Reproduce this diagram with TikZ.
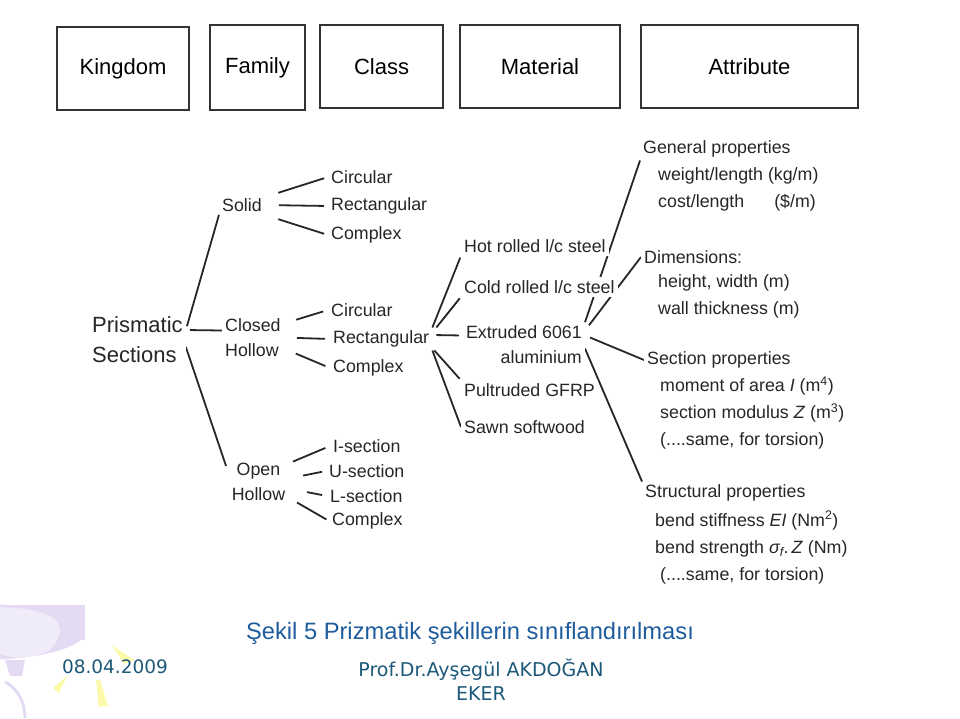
\documentclass[tikz,border=0pt]{standalone}
\usepackage{fontspec}
\setmainfont{Liberation Sans}
\newfontfamily\footfont{DejaVu Sans}
\usepackage{tikz}
\usetikzlibrary{positioning}
\usetikzlibrary{backgrounds}
\usetikzlibrary{calc}
\definecolor{capblue}{RGB}{30,92,156}
\definecolor{footblue}{RGB}{28,88,120}
\definecolor{balloon}{RGB}{229,218,244}
\definecolor{balloonlight}{RGB}{240,235,248}
\definecolor{ray}{RGB}{252,250,170}
\tikzstyle{headbox}=[rectangle,draw=black!80,line width=2pt,font=\fontsize{22}{26}\selectfont,inner sep=0pt]
\tikzstyle{item}=[anchor=west,fill=white,inner sep=3pt,text=black!85,font=\fontsize{17.8}{25}\selectfont]
\tikzstyle{bigitem}=[item,font=\fontsize{22}{30}\selectfont]
\tikzstyle{attrlist}=[item,font=\fontsize{17.8}{27}\selectfont,align=left]
\tikzstyle{branch}=[draw,line width=1.8pt,black!85]

\begin{document}
\begin{tikzpicture}[x=1pt,y=-1pt]
\useasboundingbox (0,0) rectangle (960,718);

    % header row
    \foreach \pos/\name/\label/\w/\h in {{(123,68.5)/kingdom/Kingdom/132/83}, {(257.5,67.5)/family/Family/95/85},{(381.5,66.5)/class/Class/123/83},{(540,66.5)/material/Material/160/83},{(749.5,66.5)/attribute/Attribute/217/83}}
        \node[headbox,minimum width=\w pt,minimum height=\h pt] (\name) at \pos {\label};

    % kingdom and family
    \node[bigitem,align=left] (prism) at (89,340) {Prismatic\\Sections};
    \node[item] (solid) at (219,205) {Solid};
    \node[item,align=left] (ch) at (222,337.5) {Closed\\Hollow};
    \node[item,anchor=center,align=center] (oh) at (258.5,481.5) {Open\\Hollow};

    % classes
    \foreach \pos/\name/\label in {{(328,177)/sc1/Circular}, {(328,206)/sr1/Rectangular}, {(328,235)/sx1/Complex}, {(328,310)/cc2/Circular}, {(330,339)/cr2/Rectangular}, {(330,368)/cx2/Complex}, {(330,446)/oi/I-section}, {(326,471)/ou/U-section}, {(327,496)/ol/L-section}, {(329,521)/ox/Complex}}
        \node[item] (\name) at \pos {\label};

    % materials
    \node[item] (hot) at (461,246) {Hot rolled l/c steel};
    \node[item] (cold) at (461,287) {Cold rolled l/c steel};
    \node[item,anchor=east,align=right] (ext) at (585,344.5) {Extruded 6061\\aluminium};
    \node[item] (pult) at (461,390) {Pultruded GFRP};
    \node[item] (sawn) at (461,427) {Sawn softwood};

    % attributes
    \node[item] (gen) at (640,149) {General properties};
    \node[attrlist] (genl) at (655,189.5) {weight/length (kg/m)\\cost/length\hspace*{30pt}(\$/m)};
    \node[item] (dim) at (641,257) {Dimensions:};
    \node[attrlist] (diml) at (655,296.5) {height, width (m)\\wall thickness (m)};
    \node[item] (sec) at (644,360) {Section properties};
    \node[attrlist] (secl) at (657,413) {moment of area \textit{I} (m\textsuperscript{4})\\section modulus \textit{Z} (m\textsuperscript{3})\\(....same, for torsion)};
    \node[item] (str) at (642,493) {Structural properties};
    \node[attrlist] (strl) at (652,547.5) {bend stiffness \textit{EI} (Nm\textsuperscript{2})\\bend strength \textit{σ\textsubscript{f}}.\,\textit{Z} (Nm)\\\hspace*{5pt}(....same, for torsion)};

    % caption and footer
    \node[inner sep=0pt,text=capblue,font=\fontsize{23.7}{28}\selectfont] (cap) at (470,633) {Şekil 5 Prizmatik şekillerin sınıflandırılması};
    \node[inner sep=0pt,text=footblue,font=\footfont\fontsize{18.5}{22}\selectfont] (date) at (115,667) {08.04.2009};
    \node[inner sep=0pt,text=footblue,font=\footfont\fontsize{19}{24}\selectfont,align=center] (author) at (481,680) {Prof.Dr.Ayşegül AKDOĞAN\\EKER};

\begin{pgfonlayer}{background}
    % balloon in the corner
    \fill[balloon] (-20,632) ellipse (105 and 28);
    \fill[balloon] (-10,605) rectangle (85,640);
    \fill[balloonlight] (-10,607) .. controls (60,607) and (72,625) .. (50,650) .. controls (30,660) and (10,660) .. (-10,650) -- cycle;
    \fill[balloon] (5,660) -- (25,660) -- (22,676) -- (10,676) -- cycle;
    \draw[balloon,line width=3pt] (5,682) .. controls (20,690) and (25,705) .. (25,718);
    \fill[ray] (112,645) -- (134,660) -- (124,664) -- cycle;
    \fill[ray] (67,676) -- (59,693) -- (53,688) -- cycle;
    \fill[ray] (96,680) -- (100,680) -- (108,706) -- (99,707) -- cycle;

    % connectors
    \path[branch,shorten <=4pt] ([yshift=10pt]prism.east) -- (solid.south west);
    \path[branch,shorten <=4pt] ([yshift=10pt]prism.east) -- ([yshift=7pt]ch.west);
    \path[branch,shorten >=8pt] ([yshift=-7pt]prism.east) -- ([yshift=8pt]oh.west);

    \foreach \dy/\dest in {8pt/sc1, 0pt/sr1, -10pt/sx1}
        \path[branch,shorten <=14pt,shorten >=4pt] ([yshift=\dy]solid.east) -- (\dest.west);
    \foreach \dy/\dest in {14pt/cc2, 0pt/cr2, -11pt/cx2}
        \path[branch,shorten <=13pt,shorten >=5pt] ([yshift=\dy]ch.east) -- (\dest.west);
    \foreach \dy/\dest/\s/\e in {18pt/oi/5pt/5pt, 3pt/ou/15pt/4pt, -7pt/ol/19pt/5pt, -16pt/ox/10pt/3pt}
        \path[branch,shorten <=\s,shorten >=\e] ([yshift=\dy]oh.east) -- (\dest.west);

    \path[branch,shorten >=2pt] (cr2.north east) -- (hot.south west);
    \path[branch,shorten >=2pt] ([xshift=4pt]cr2.north east) -- (cold.south west);
    \path[branch,shorten <=4pt,shorten >=4pt] ([yshift=4pt]cr2.east) -- ([yshift=9pt]ext.west);
    \path[branch,shorten >=2pt] ([xshift=2pt]cr2.south east) -- (pult.north west);
    \path[branch] (cr2.south east) -- (sawn.west);

    \path[branch] (ext.north east) -- (gen.south west);
    \path[branch] ([xshift=4pt,yshift=-3pt]ext.north east) -- (dim.west);
    \path[branch] ([xshift=5pt,yshift=7pt]ext.east) -- (sec.west);
    \path[branch] ([yshift=-4pt]ext.east) -- (str.north west);
\end{pgfonlayer}

\end{tikzpicture}
\end{document}
